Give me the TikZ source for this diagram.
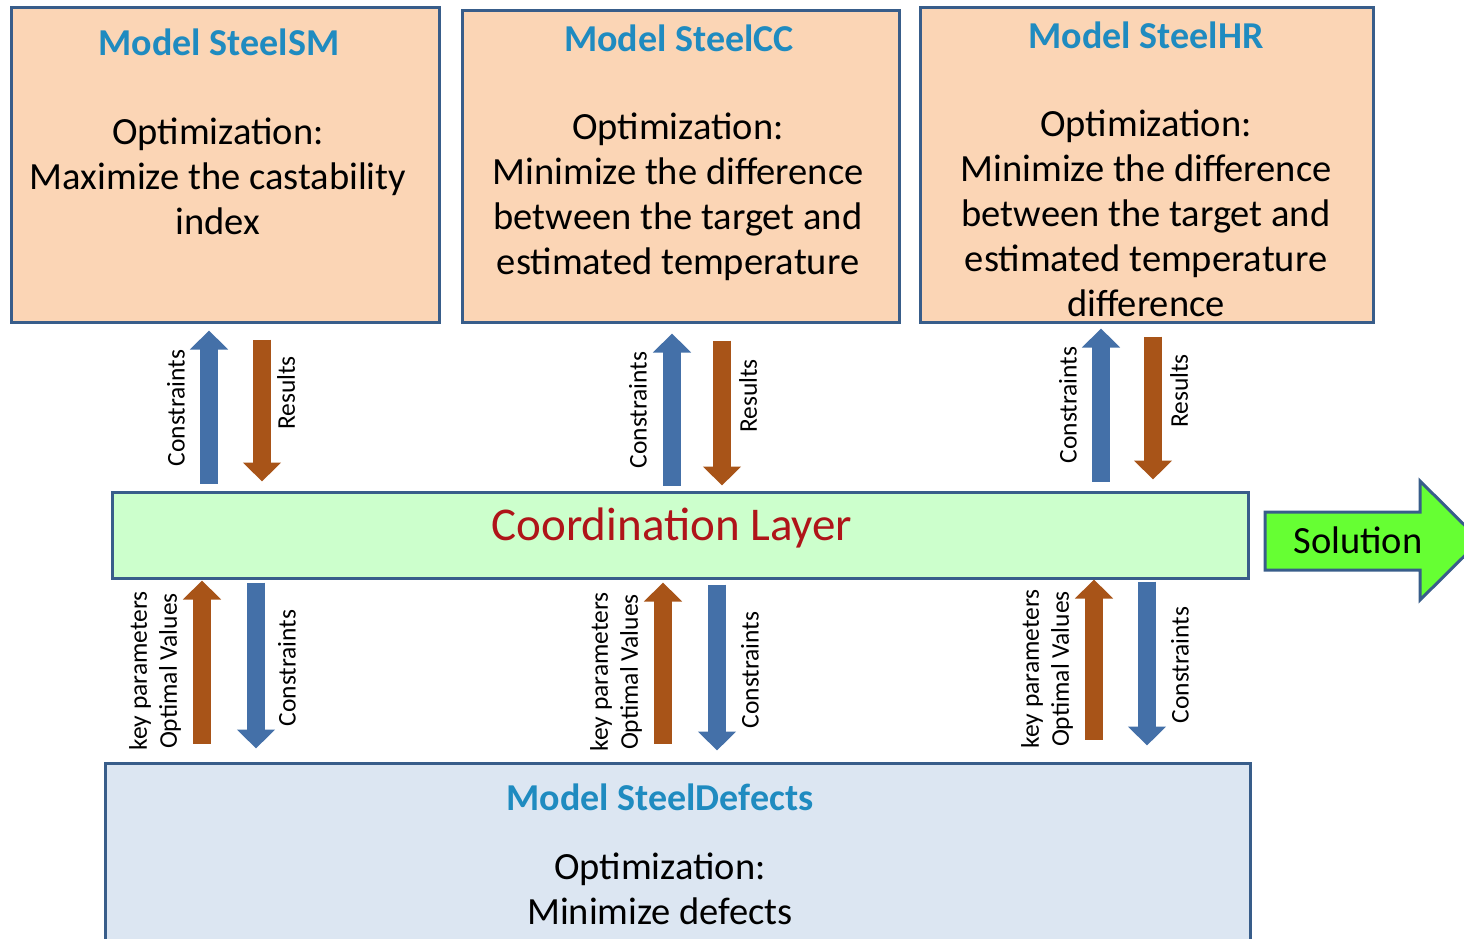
\documentclass[tikz,border=0pt]{standalone}
\usepackage{fontspec}
\setmainfont{Carlito}
\usetikzlibrary{arrows.meta}
\definecolor{peach}{RGB}{251,213,181}
\definecolor{bord}{RGB}{56,93,138}
\definecolor{clgreen}{RGB}{204,255,204}
\definecolor{botblue}{RGB}{220,230,242}
\definecolor{solgreen}{RGB}{102,255,51}
\definecolor{arrblue}{RGB}{68,112,168}
\definecolor{arrbrown}{RGB}{168,84,24}
\definecolor{titleblue}{RGB}{31,139,192}
\definecolor{clred}{RGB}{175,20,25}
\begin{document}
\begin{tikzpicture}[x=1pt,y=-1pt,
  box/.style={draw=bord, line width=3pt, inner sep=0pt},
  body/.style={font=\fontsize{38.5}{45}\selectfont, align=center, text=black, inner sep=0pt},
  title/.style={font=\fontsize{38}{43}\selectfont\bfseries, text=titleblue, inner sep=0pt},
  lab/.style={font=\fontsize{25.5}{30}\selectfont, rotate=90, align=center, inner sep=0pt},
  upb/.style={line width=18pt, draw=arrblue, -{Triangle[width=37pt,length=19pt]}},
  upr/.style={line width=18pt, draw=arrbrown, -{Triangle[width=37pt,length=19pt]}}
]
\useasboundingbox (0,0) rectangle (1464,939);
\clip (0,0) rectangle (1464,939);

% boxes
\node[box, fill=peach, minimum width=428pt, minimum height=314pt] (sm) at (225,165) {};
\node[box, fill=peach, minimum width=437pt, minimum height=311pt] (cc) at (680.5,166.5) {};
\node[box, fill=peach, minimum width=453pt, minimum height=314pt] (hr) at (1146.5,165) {};
\node[box, fill=clgreen, minimum width=1136pt, minimum height=86pt] (cl) at (680,535) {};
\node[box, fill=botblue, minimum width=1145pt, minimum height=260pt] (df) at (677.5,893) {};

% texts
\node[title] (smt) at (219,42) {Model SteelSM};
\node[body] (smb) at (218,176) {Optimization:\\Maximize the castability\\index};
\node[title] (cct) at (679,38) {Model SteelCC};
\node[body] (ccb) at (678,197) {Optimization:\\Minimize the difference\\between the target and\\estimated temperature};
\node[title] (hrt) at (1146,35) {Model SteelHR};
\node[body] (hrb) at (1146,213) {Optimization:\\Minimize the difference\\between the target and\\estimated temperature\\difference};
\node[font=\fontsize{47}{54}\selectfont, text=clred, inner sep=0pt] (clt) at (672,528) {Coordination Layer};
\node[title] (dft) at (660,797) {Model SteelDefects};
\node[body] (dfb) at (660,889) {Optimization:\\Minimize defects};

% solution arrow
\draw[draw=bord, line width=3pt, fill=solgreen, line join=miter]
  (1265,512) -- (1420,512) -- (1420,481) -- (1480,540.5) -- (1420,600) -- (1420,570) -- (1265,570) -- cycle;
\node[font=\fontsize{38.5}{43}\selectfont, inner sep=0pt] (sol) at (1358,540) {Solution};

% arrow x positions
\coordinate (a1) at (209,0);  \coordinate (b1) at (262,0);
\coordinate (a2) at (672,0);  \coordinate (b2) at (722,0);
\coordinate (a3) at (1101,0); \coordinate (b3) at (1153,0);
\coordinate (c1) at (202,0);  \coordinate (d1) at (256,0);
\coordinate (c2) at (663,0);  \coordinate (d2) at (717,0);
\coordinate (c3) at (1094,0); \coordinate (d3) at (1147,0);

% top arrows
\draw[upb, shorten <=7pt, shorten >=7pt] (cl.north -| a1) -- (sm.south -| a1);
\draw[upr, shorten <=16pt, shorten >=9pt] (sm.south -| b1) -- (cl.north -| b1);
\draw[upb, shorten <=5pt, shorten >=10pt] (cl.north -| a2) -- (cc.south -| a2);
\draw[upr, shorten <=17pt, shorten >=5pt] (cc.south -| b2) -- (cl.north -| b2);
\draw[upb, shorten <=9pt, shorten >=5pt] (cl.north -| a3) -- (hr.south -| a3);
\draw[upr, shorten <=13pt, shorten >=11pt] (hr.south -| b3) -- (cl.north -| b3);

% bottom arrows
\draw[upr, shorten <=18pt, shorten >=1pt] (df.north -| c1) -- (cl.south -| c1);
\draw[upb, shorten <=3pt, shorten >=13pt] (cl.south -| d1) -- (df.north -| d1);
\draw[upr, shorten <=18pt, shorten >=3pt] (df.north -| c2) -- (cl.south -| c2);
\draw[upb, shorten <=5pt, shorten >=11pt] (cl.south -| d2) -- (df.north -| d2);
\draw[upr, shorten <=22pt, shorten >=0pt] (df.north -| c3) -- (cl.south -| c3);
\draw[upb, shorten <=2pt, shorten >=16pt] (cl.south -| d3) -- (df.north -| d3);

% labels
\node[lab] (l1) at (176,408) {Constraints};
\node[lab] (l2) at (286,393) {Results};
\node[lab] (l3) at (638,410) {Constraints};
\node[lab] (l4) at (748,396) {Results};
\node[lab] (l5) at (1068,405) {Constraints};
\node[lab] (l6) at (1179,391) {Results};
\node[lab] (m1) at (155,671) {key parameters\\Optimal Values};
\node[lab] (m2) at (287,668) {Constraints};
\node[lab] (m3) at (616,672) {key parameters\\Optimal Values};
\node[lab] (m4) at (750,670) {Constraints};
\node[lab] (m5) at (1047,669) {key parameters\\Optimal Values};
\node[lab] (m6) at (1180,665) {Constraints};
\end{tikzpicture}
\end{document}
